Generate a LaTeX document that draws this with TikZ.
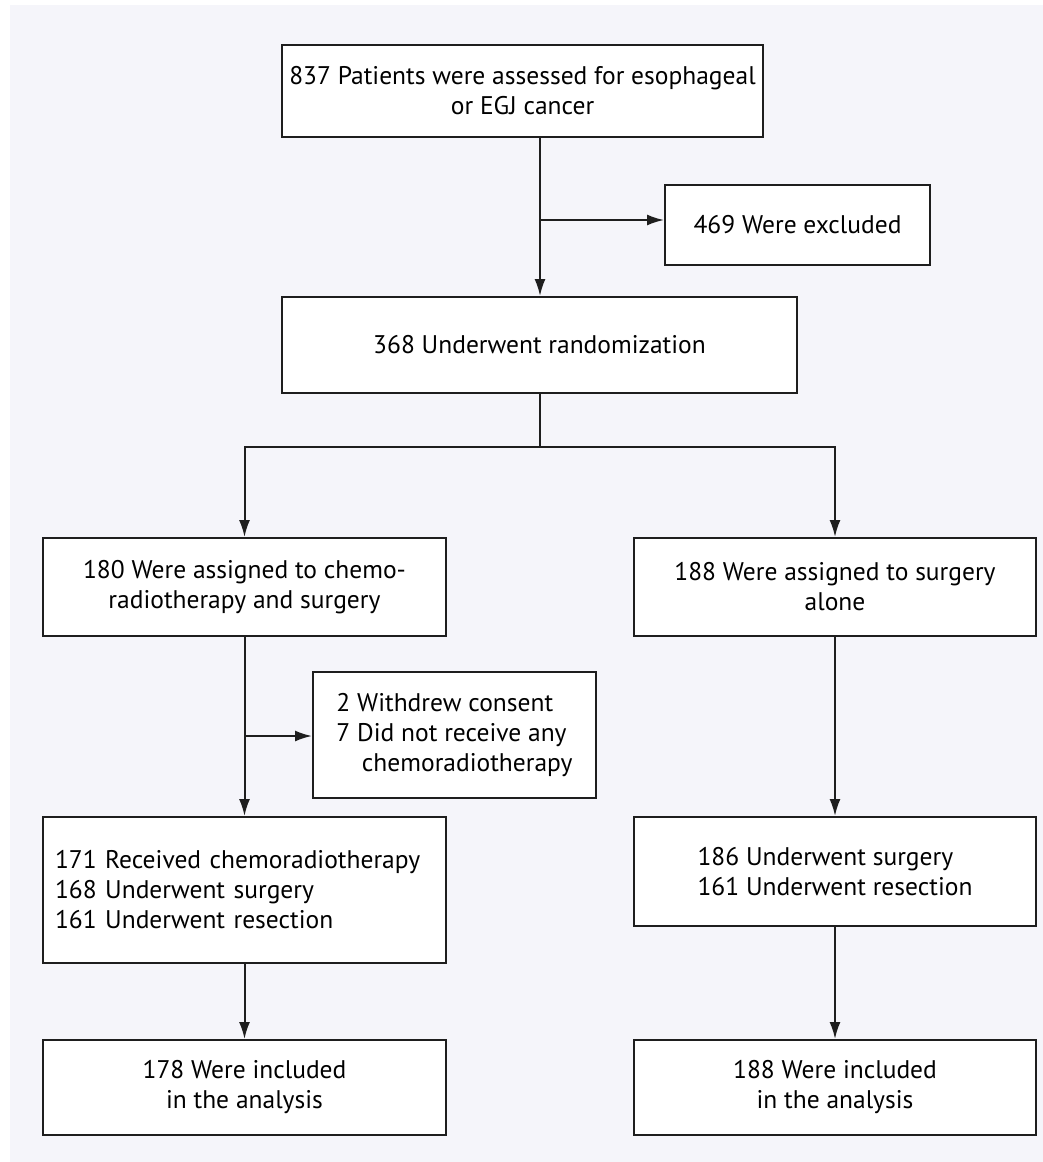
\documentclass[tikz,border=0pt]{standalone}
\usepackage{fontspec}
\setmainfont{PT Sans}
\usetikzlibrary{arrows.meta}
\definecolor{pagebg}{RGB}{245,245,250}
\definecolor{boxline}{RGB}{30,30,30}
\tikzset{
  box/.style={draw=boxline, line width=2pt, fill=white, inner sep=0pt,
    font=\fontsize{25.5}{30}\selectfont, align=center},
  flow/.style={draw=boxline, line width=2pt, -{Latex[length=17pt,width=11pt]}},
  link/.style={draw=boxline, line width=2pt}
}
\begin{document}
\begin{tikzpicture}[x=1pt,y=-1pt]
      \useasboundingbox (0,0) rectangle (1043,1162);
      \fill[pagebg] (10,5) rectangle (1043,1162);
      % top of the chart
      \node[box, minimum width=481pt, minimum height=92pt] (assessed) at (522.5,91)
        {837 Patients were assessed for esophageal\\or EGJ cancer};
      \node[box, minimum width=265pt, minimum height=80pt] (excluded) at (797.5,225)
        {469 Were excluded};
      \node[box, minimum width=515pt, minimum height=96pt] (rand) at (539.5,345)
        {368 Underwent randomization};
      % two arms
      \node[box, minimum width=403pt, minimum height=98pt] (crt) at (244.5,587)
        {180 Were assigned to chemo-\\radiotherapy and surgery};
      \node[box, minimum width=402pt, minimum height=98pt] (surg) at (835,587)
        {188 Were assigned to surgery\\alone};
      \node[box, minimum width=283pt, minimum height=126pt, align=left] (withdrew) at (454.5,735)
        {2 Withdrew consent\\7 Did not receive any\\\hspace*{1em}chemoradiotherapy};
      \node[box, minimum width=403pt, minimum height=146pt, align=left, text width=379pt] (crtdone) at (244.5,890)
        {171 Received chemoradiotherapy\\168 Underwent surgery\\161 Underwent resection};
      \node[box, minimum width=402pt, minimum height=109pt, align=left] (surgdone) at (835,871.5)
        {186 Underwent surgery\\161 Underwent resection};
      \node[box, minimum width=403pt, minimum height=95pt] (crtan) at (244.5,1087.5)
        {178 Were included\\in the analysis};
      \node[box, minimum width=402pt, minimum height=95pt] (surgan) at (835,1087.5)
        {188 Were included\\in the analysis};
      % connectors
      \coordinate (trunk) at (540,220);
      \coordinate (fork) at (540,447);
      \coordinate (wd) at (244.5,736);
      \draw[flow] (trunk |- assessed.south) -- (trunk |- rand.north);
      \draw[flow] (trunk) -- (excluded.west |- trunk);
      \draw[link] (fork |- rand.south) -- (fork);
      \draw[flow] (fork) -| (crt.north);
      \draw[flow] (fork) -| (surg.north);
      \draw[flow] (crt) -- (crtdone);
      \draw[flow] (wd) -- (withdrew.west |- wd);
      \draw[flow] (surg) -- (surgdone);
      \draw[flow] (crtdone) -- (crtan);
      \draw[flow] (surgdone) -- (surgan);
\end{tikzpicture}
\end{document}
